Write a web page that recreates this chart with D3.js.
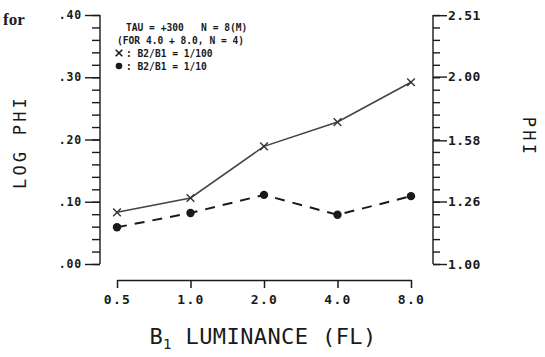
<!DOCTYPE html>
<html>
<head>
<meta charset="utf-8">
<script src="https://cdn.jsdelivr.net/npm/d3@7"></script>
<style>
  html, body { margin: 0; padding: 0; background: #fff; }
  svg { display: block; }
</style>
</head>
<body>
<script>
// ─── data ───────────────────────────────────────────────────────────────────
const luminance = [0.5, 1.0, 2.0, 4.0, 8.0];
const logPhiRatio100 = [0.083, 0.106, 0.189, 0.228, 0.292];   // X : B2/B1 = 1/100
const logPhiRatio10  = [0.059, 0.082, 0.111, 0.079, 0.109];   // ● : B2/B1 = 1/10
const leftTicks  = [0.0, 0.1, 0.2, 0.3, 0.4];
const rightTicks = [1.00, 1.26, 1.58, 2.00, 2.51];
const legendLines = [
  'TAU = +300   N = 8(M)',
  '(FOR 4.0 + 8.0, N = 4)',
  ': B2/B1 = 1/100',
  ': B2/B1 = 1/10'
];

const W = 545, H = 357;
const INK = '#1a1a1a';
const MONO = '"DejaVu Sans Mono", monospace';

const svg = d3.select('body').append('svg')
  .attr('width', W).attr('height', H)
  .style('font-family', MONO);

const y = d3.scaleLinear().domain([0, 0.4]).range([264, 15]);
const x = d3.scaleLog().base(2).domain([0.5, 8]).range([117, 411]);
const minor = d3.range(0, 0.4001, 0.02);

// page text at top-left
svg.append('text')
  .attr('x', 3).attr('y', 25)
  .attr('font-family', '"Liberation Serif", serif')
  .attr('font-weight', 'bold')
  .attr('font-size', 17)
  .attr('fill', '#222')
  .text('for');

// ─── left axis ──────────────────────────────────────────────────────────────
const left = svg.append('g').attr('transform', 'translate(100,0)');
left.call(d3.axisLeft(y).tickValues(minor).tickSize(8).tickSizeOuter(0).tickFormat(''));
left.append('g').call(d3.axisLeft(y).tickValues(leftTicks).tickSize(15).tickPadding(3)
  .tickFormat((d) => d3.format('.2f')(d).replace(/^0/, '')));
left.selectAll('.domain').remove();
left.append('line').attr('y1', y(0)).attr('y2', y(0.4)).attr('stroke', INK).attr('stroke-width', 1.6);
left.selectAll('line').attr('stroke', INK).attr('stroke-width', 1.4);
left.selectAll('text').attr('font-family', MONO).attr('font-size', 11.5)
  .attr('letter-spacing', 0.8).attr('font-weight', 'bold').attr('fill', INK);

// ─── right axis ─────────────────────────────────────────────────────────────
const right = svg.append('g').attr('transform', 'translate(433,0)');
right.call(d3.axisRight(y).tickValues(minor).tickSize(7).tickSizeOuter(0).tickFormat(''));
right.append('g').call(d3.axisRight(y).tickValues(rightTicks.map((v) => Math.log10(v)))
  .tickSize(14).tickPadding(1).tickFormat((d, i) => d3.format('.2f')(rightTicks[i])));
right.selectAll('.domain').remove();
right.append('line').attr('y1', y(0)).attr('y2', y(0.4)).attr('stroke', INK).attr('stroke-width', 1.6);
right.selectAll('line').attr('stroke', INK).attr('stroke-width', 1.4);
right.selectAll('text').attr('font-family', MONO).attr('font-size', 13)
  .attr('letter-spacing', 0.3).attr('font-weight', 'bold').attr('fill', INK);

// ─── x axis ─────────────────────────────────────────────────────────────────
const bottom = svg.append('g').attr('transform', 'translate(0,280)');
bottom.call(d3.axisBottom(x).tickValues(luminance).tickSize(8).tickSizeOuter(0).tickPadding(7)
  .tickFormat(d3.format('.1f')));
bottom.selectAll('path, line').attr('stroke', INK).attr('stroke-width', 1.5);
bottom.selectAll('text').attr('font-family', MONO).attr('font-size', 13)
  .attr('letter-spacing', 1.4).attr('font-weight', 'bold').attr('fill', INK);

// ─── titles ─────────────────────────────────────────────────────────────────
svg.append('text')
  .attr('transform', 'translate(26,142) rotate(-90)')
  .attr('text-anchor', 'middle')
  .attr('font-size', 17).attr('letter-spacing', 3.2).attr('fill', INK)
  .text('LOG PHI');

svg.append('text')
  .attr('transform', 'translate(523,137) rotate(90)')
  .attr('text-anchor', 'middle')
  .attr('font-size', 17).attr('letter-spacing', 3.2).attr('fill', INK)
  .text('PHI');

const xt = svg.append('text')
  .attr('x', 263).attr('y', 344)
  .attr('text-anchor', 'middle')
  .attr('font-size', 22).attr('letter-spacing', 0.4).attr('fill', INK);
xt.append('tspan').text('B');
xt.append('tspan').attr('font-size', 14).attr('dy', 5).text('1');
xt.append('tspan').attr('dy', -5).text(' LUMINANCE (FL)');

// ─── series ─────────────────────────────────────────────────────────────────
const line = d3.line().x((d) => x(d[0])).y((d) => y(d[1]));
const solidPts = luminance.map((l, i) => [l, logPhiRatio100[i]]);
const dashPts = luminance.map((l, i) => [l, logPhiRatio10[i]]);

svg.append('path').datum(solidPts)
  .attr('d', line).attr('fill', 'none')
  .attr('stroke', '#444').attr('stroke-width', 1.6);

svg.append('path').datum(dashPts)
  .attr('d', line).attr('fill', 'none')
  .attr('stroke', INK).attr('stroke-width', 2)
  .attr('stroke-dasharray', '10,8');

const cross = d3.symbol().type(d3.symbolX).size(40);
svg.append('g').selectAll('path').data(solidPts).join('path')
  .attr('transform', (d) => `translate(${x(d[0])},${y(d[1])})`)
  .attr('d', cross).attr('fill', 'none').attr('stroke', '#333').attr('stroke-width', 1.4);

svg.append('g').selectAll('circle').data(dashPts).join('circle')
  .attr('cx', (d) => x(d[0])).attr('cy', (d) => y(d[1]))
  .attr('r', 4.2).attr('fill', INK);

// ─── legend ─────────────────────────────────────────────────────────────────
const lg = svg.append('g')
  .attr('font-size', 9.6).attr('font-weight', 'bold').attr('fill', INK);
lg.append('text').attr('x', 126).attr('y', 31).attr('xml:space', 'preserve')
  .style('white-space', 'pre').text(legendLines[0]);
lg.append('text').attr('x', 117).attr('y', 44).text(legendLines[1]);
lg.append('path').attr('transform', 'translate(119,53)')
  .attr('d', d3.symbol().type(d3.symbolX).size(30))
  .attr('fill', 'none').attr('stroke', INK).attr('stroke-width', 1.6);
lg.append('text').attr('x', 126).attr('y', 57).text(legendLines[2]);
lg.append('circle').attr('cx', 119).attr('cy', 66).attr('r', 3.3).attr('fill', INK);
lg.append('text').attr('x', 126).attr('y', 70).text(legendLines[3]);
</script>
</body>
</html>
